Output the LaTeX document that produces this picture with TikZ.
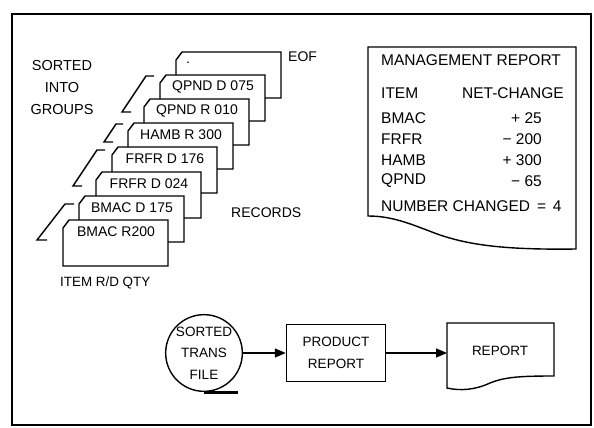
\documentclass[tikz,border=0pt]{standalone}
\usepackage{fontspec}
\setmainfont{Liberation Sans}
\usetikzlibrary{arrows.meta}
\tikzset{
  ln/.style={line width=1.4pt, line join=miter},
  cardtxt/.style={font=\fontsize{14}{16}\selectfont, inner sep=0pt},
  reptxt/.style={font=\fontsize{15.5}{18}\selectfont, inner sep=0pt},
  lbl/.style={font=\fontsize{14}{16}\selectfont, inner sep=0pt},
  flowtxt/.style={font=\fontsize{13.5}{21.5}\selectfont, align=center},
  arr/.style={ln, -{Triangle[length=11pt,width=9pt]}},
}
\newcommand\mycard[2]{%
  \draw[ln, fill=white] (#1,#2+8) -- (#1+6,#2) -- (#1+105,#2) -- (#1+105,#2+46) -- (#1,#2+46) -- cycle;
}
\begin{document}
\begin{tikzpicture}[x=1pt,y=-1pt]
\useasboundingbox (0,0) rectangle (594,428);
% outer frame
\draw[ln] (12,14) rectangle (591,425);

% label left
\node[lbl, align=center, font=\fontsize{14.5}{22}\selectfont] (sorted) at (62,88) {SORTED\\INTO\\GROUPS};

% cards, back to front
\mycard{176}{52}
\node[cardtxt] (eofdot) at (188,63) {.};
\mycard{160}{75}
\node[cardtxt] (c2) at (213,87) {QPND D 075};
\mycard{144}{99}
\node[cardtxt] (c3) at (197,111) {QPND R 010};
\mycard{128}{123}
\node[cardtxt] (c4) at (181,135) {HAMB R 300};
\mycard{112}{147}
\node[cardtxt] (c5) at (165,159) {FRFR D 176};
\mycard{96}{172}
\node[cardtxt] (c6) at (149,184) {FRFR D 024};
\mycard{79}{196}
\node[cardtxt] (c7) at (132,208) {BMAC D 175};
\mycard{63}{220}
\node[cardtxt] (c8) at (116,232) {BMAC R200};

% group brackets
\draw[ln] (154,76) -- (146,76) -- (122,112) -- (131,112);
\draw[ln] (123,124) -- (116,124) -- (104,142) -- (113,142);
\draw[ln] (105,150) -- (97,150) -- (73,186) -- (82,186);
\draw[ln] (74,204) -- (65,204) -- (37,240) -- (47,240);

\node[lbl, anchor=west] (eof) at (288,57) {EOF};
\node[lbl, anchor=west] (records) at (231,213) {RECORDS};
\node[lbl, anchor=west, font=\fontsize{13.4}{16}\selectfont] (itemrd) at (60,283) {ITEM R/D QTY};

% management report
\draw[ln, fill=white] (368,47) -- (576,47) -- (576,249)
  .. controls (505,250) and (470,245) .. (440,235)
  .. controls (415,226) and (395,216) .. (368,216) -- cycle;
\node[reptxt, anchor=west] (mr) at (381,60) {MANAGEMENT REPORT};
\node[reptxt, anchor=west] (ih) at (381,93) {ITEM};
\node[reptxt, anchor=east] (nc) at (564,93) {NET-CHANGE};
\node[reptxt, anchor=west] (r1) at (381,118) {BMAC};
\node[reptxt, anchor=west] (r2) at (381,139) {FRFR};
\node[reptxt, anchor=west] (r3) at (381,160) {HAMB};
\node[reptxt, anchor=west] (r4) at (381,181) {QPND};
\node[reptxt, anchor=east] (v1) at (542,118) {+ 25};
\node[reptxt, anchor=east] (v2) at (542,139) {− 200};
\node[reptxt, anchor=east] (v3) at (542,160) {+ 300};
\node[reptxt, anchor=east] (v4) at (542,181) {− 65};
\node[reptxt, anchor=west] (num) at (381,206) {NUMBER CHANGED \,=\, 4};

% flowchart
\node[circle, draw, ln, minimum size=73pt, inner sep=0pt, flowtxt] (tape) at (204,353) {SORTED\\TRANS\\FILE};
\draw[line width=3pt] (tape.south) -- ++(34,0);
\node[draw, ln, minimum width=99pt, minimum height=57pt, flowtxt] (proc) at (336,353) {PRODUCT\\REPORT};
\coordinate (docin) at (447,353);
\draw[ln] (447,323) -- (554,323) -- (554,376)
  .. controls (520,376) and (505,377) .. (490,383)
  .. controls (475,390) and (460,391) .. (447,388) -- cycle;
\node[flowtxt] (rep) at (500,351) {REPORT};
\draw[arr] (tape) -- (proc);
\draw[arr] (proc) -- (docin);
\end{tikzpicture}
\end{document}
